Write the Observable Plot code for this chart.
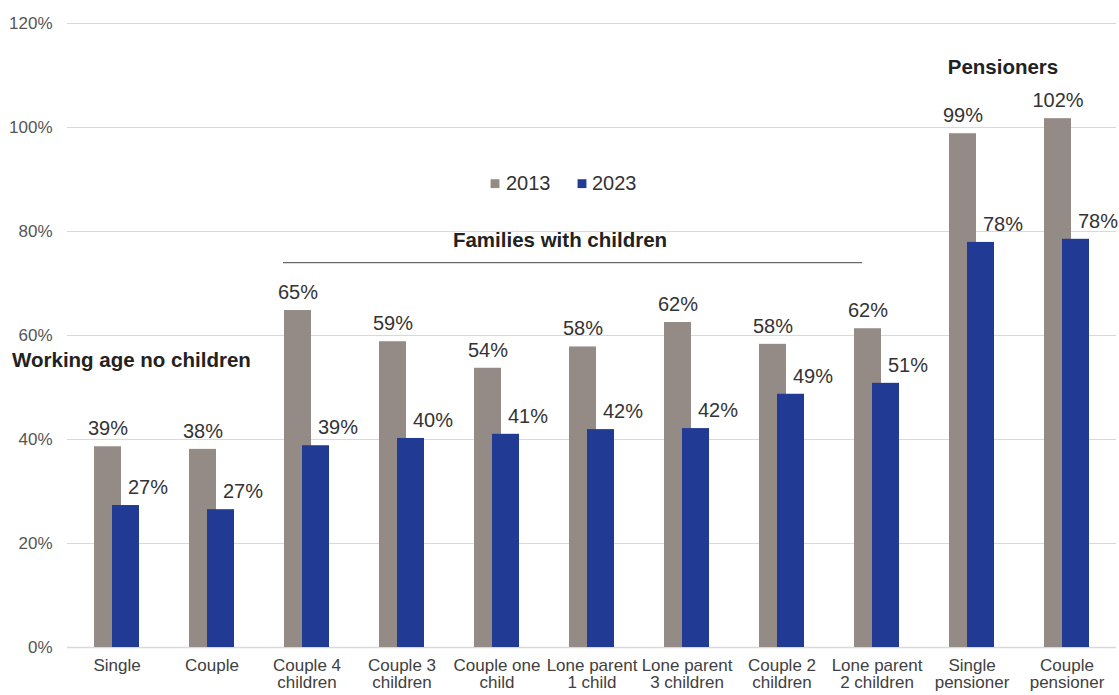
<!DOCTYPE html>
<html>
<head>
<meta charset="utf-8">
<script src="https://cdn.jsdelivr.net/npm/d3@7"></script>
<script src="https://cdn.jsdelivr.net/npm/@observablehq/plot@0.6"></script>
<style>
  html, body { margin: 0; padding: 0; background: #fff; }
  #chart svg { display: block; }
</style>
</head>
<body>
<div id="chart"></div>
<script>
const categories = [
  "Single", "Couple", "Couple 4\nchildren", "Couple 3\nchildren", "Couple one\nchild",
  "Lone parent\n1 child", "Lone parent\n3 children", "Couple 2\nchildren",
  "Lone parent\n2 children", "Single\npensioner", "Couple\npensioner"
];
const values2013 = [38.6, 38.1, 64.8, 58.8, 53.7, 57.8, 62.5, 58.3, 61.3, 98.8, 101.7];
const values2023 = [27.3, 26.5, 38.8, 40.2, 41.0, 41.9, 42.1, 48.7, 50.8, 77.9, 78.5];
const labels2013 = ["39%", "38%", "65%", "59%", "54%", "58%", "62%", "58%", "62%", "99%", "102%"];
const labels2023 = ["27%", "27%", "39%", "40%", "41%", "42%", "42%", "49%", "51%", "78%", "78%"];
const years = ["2013", "2023"];
const colors = ["#948b86", "#213a94"];
const yTicks = [0, 20, 40, 60, 80, 100, 120];

const d13 = categories.map((c, i) => ({cat: c, value: values2013[i], label: labels2013[i]}));
const d23 = categories.map((c, i) => ({cat: c, value: values2023[i], label: labels2023[i]}));

const font = "Liberation Sans, Arial, sans-serif";

const plot = Plot.plot({
  width: 1119,
  height: 695,
  marginTop: 23,
  marginBottom: 48,
  marginLeft: 67,
  marginRight: 3,
  style: {fontFamily: font, fontSize: "17px", color: "#404040", background: "#fff"},
  x: {domain: categories, padding: 0, label: null},
  y: {domain: [0, 120], label: null},
  marks: [
    Plot.gridY(yTicks, {stroke: "#d9d9d9", strokeOpacity: 1, strokeWidth: 1}),
    Plot.axisY(yTicks, {tickSize: 0, tickPadding: 15, tickFormat: d => d + "%", fontSize: 17, fill: "#555", label: null}),
    Plot.axisX({tickSize: 0, tickPadding: 11, fontSize: 17, fill: "#404040", lineHeight: 1.0, label: null}),
    Plot.ruleY([0], {stroke: "#d9d9d9", strokeWidth: 1.5}),
    Plot.barY(d13, {x: "cat", y: "value", fill: colors[0], insetLeft: 25, insetRight: 43}),
    Plot.barY(d23, {x: "cat", y: "value", fill: colors[1], insetLeft: 43, insetRight: 25}),
    Plot.text(d13, {x: "cat", y: "value", text: "label", dx: -9, dy: -18, fontSize: 20, fill: "#333"}),
    Plot.text(d23, {x: "cat", y: "value", text: "label", dx: 31, dy: -18, fontSize: 20, fill: "#333"}),
    // legend
    Plot.dot([years[0]], {x: () => categories[4], y: () => 89.2, dx: -2, symbol: "square", r: 5, fill: colors[0]}),
    Plot.text([years[0]], {x: () => categories[4], y: () => 89.2, dx: 9, text: d => d, textAnchor: "start", fontSize: 20, fill: "#333"}),
    Plot.dot([years[1]], {x: () => categories[5], y: () => 89.2, dx: -10, symbol: "square", r: 5, fill: colors[1]}),
    Plot.text([years[1]], {x: () => categories[5], y: () => 89.2, dx: 0, text: d => d, textAnchor: "start", fontSize: 20, fill: "#333"}),
    // group annotations
    Plot.ruleY([74], {stroke: "#444", strokeWidth: 1, insetLeft: 216, insetRight: 254}),
    Plot.text(["Families with children"], {x: () => categories[5], y: () => 78.3, dx: -32, text: d => d, fontSize: 20.5, fontWeight: "bold", fill: "#222"}),
    Plot.text(["Working age no children"], {x: () => categories[0], y: () => 55.3, dx: -105, textAnchor: "start", text: d => d, fontSize: 20.5, fontWeight: "bold", fill: "#222"}),
    Plot.text(["Pensioners"], {x: () => categories[9], y: () => 111.5, dx: 31, text: d => d, fontSize: 20.5, fontWeight: "bold", fill: "#222"})
  ]
});
document.getElementById("chart").appendChild(plot);
</script>
</body>
</html>
